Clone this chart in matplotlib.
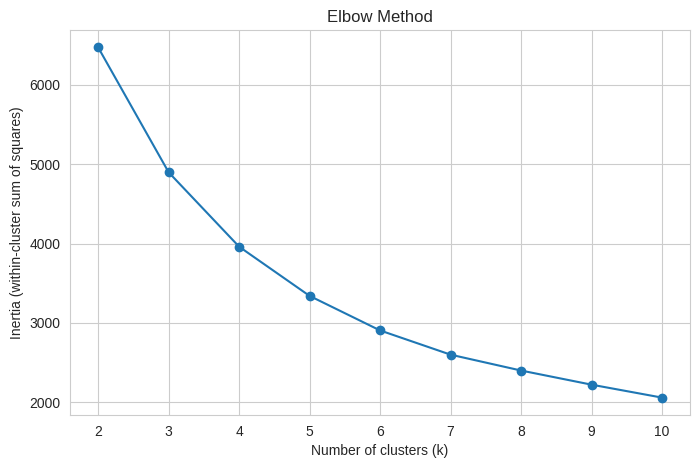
import matplotlib
matplotlib.use("Agg")
import matplotlib.pyplot as plt
import seaborn as sns

# elbow curve values
k_values = [2, 3, 4, 5, 6, 7, 8, 9, 10]
inertia = [6470, 4897, 3960, 3340, 2905, 2600, 2400, 2222, 2059]

sns.set_style("whitegrid")
plt.rcParams['font.family'] = ['Liberation Sans', 'DejaVu Sans']

fig, ax = plt.subplots(figsize=(7, 4.68), dpi=100)
ax.plot(k_values, inertia, marker='o', color='#1f77b4')
ax.set_title("Elbow Method")
ax.set_xlabel("Number of clusters (k)")
ax.set_ylabel("Inertia (within-cluster sum of squares)")
ax.set_xticks(k_values)

fig.subplots_adjust(left=0.1, right=0.986, top=0.936, bottom=0.113)
fig.savefig("out.png", dpi=100)
plt.close(fig)
